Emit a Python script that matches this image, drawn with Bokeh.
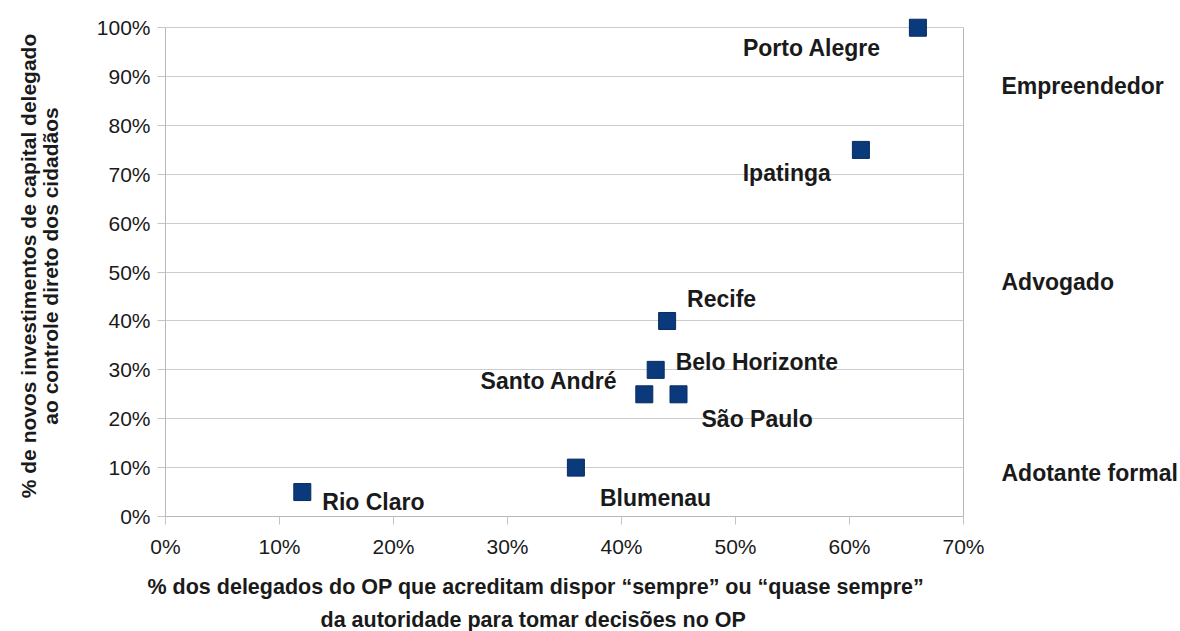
from bokeh.plotting import figure
from bokeh.models import (ColumnDataSource, Range1d, FixedTicker, PrintfTickFormatter,
                          LinearAxis, Label, Title)
from bokeh.embed import file_html
from bokeh.resources import INLINE

# ---- data ----
cities = ["Porto Alegre", "Ipatinga", "Recife", "Belo Horizonte",
          "Santo André", "São Paulo", "Blumenau", "Rio Claro"]
x_vals = [66, 61, 44, 43, 42, 45, 36, 12]   # % delegados
y_vals = [100, 75, 40, 30, 25, 25, 10, 5]   # % investimentos
x_ticks = [0, 10, 20, 30, 40, 50, 60, 70]
y_ticks = [0, 10, 20, 30, 40, 50, 60, 70, 80, 90, 100]
categories = ["Empreendedor", "Advogado", "Adotante formal"]
category_pos = [88, 48, 9]

x_title_lines = ["% dos delegados do OP que acreditam dispor \u201csempre\u201d ou \u201cquase sempre\u201d",
                 "da autoridade para tomar decisões no OP"]
y_title = "% de novos investimentos de capital delegado\nao controle direto dos cidadãos"

# label placement (style): (align, dx, dy) in screen px, dy positive = down
label_style = {
    "Porto Alegre": ("right", -37, 20),
    "Ipatinga": ("right", -30, 23),
    "Recife": ("left", 20, -22),
    "Belo Horizonte": ("left", 20, -8),
    "Santo André": ("right", -27, -13),
    "São Paulo": ("left", 23, 25),
    "Blumenau": ("left", 24, 30),
    "Rio Claro": ("left", 20, 10),
}
x_title_offsets = [-18, 155]   # px from frame left (style)
x_title_standoffs = [24, -9]

FONT = "Liberation Sans"
TXT = "#1a1a1a"
AXIS_GRAY = "#b8b8b8"

p = figure(width=1180, height=631, output_backend="svg", toolbar_location=None,
           x_range=Range1d(0, 70), y_range=Range1d(0, 102.5),
           min_border_left=165, min_border_right=217, min_border_top=15,
           min_border_bottom=115)
p.background_fill_color = "white"
p.border_fill_color = "white"
p.outline_line_color = None

# axes
for ax in (p.xaxis[0], p.yaxis[0]):
    ax.axis_line_color = AXIS_GRAY
    ax.major_tick_line_color = "#c4c4c4"
    ax.major_tick_in = 0
    ax.major_tick_out = 8
    ax.minor_tick_line_color = None
    ax.major_label_text_font = FONT
    ax.major_label_text_font_size = "21px"
    ax.major_label_text_color = TXT
    ax.formatter = PrintfTickFormatter(format="%d%%")

p.xaxis.ticker = FixedTicker(ticks=x_ticks)
p.yaxis.ticker = FixedTicker(ticks=y_ticks)
p.yaxis.bounds = (0, 100)
p.xaxis.major_label_standoff = 10
p.yaxis.major_label_standoff = 7

p.yaxis.axis_label = y_title
p.yaxis.axis_label_text_font = FONT
p.yaxis.axis_label_text_font_size = "21px"
p.yaxis.axis_label_text_font_style = "bold"
p.yaxis.axis_label_text_color = TXT
p.yaxis.axis_label_text_line_height = 0.95
p.yaxis.axis_label_standoff = 32

p.xgrid.grid_line_color = None
p.ygrid.grid_line_color = "#cccccc"
p.ygrid.grid_line_width = 1

# right-side category labels (axis line also serves as right border)
rax = LinearAxis(ticker=FixedTicker(ticks=category_pos), bounds=(0, 100),
                 major_label_overrides={v: c for v, c in zip(category_pos, categories)})
rax.axis_line_color = AXIS_GRAY
rax.major_tick_line_color = None
rax.minor_tick_line_color = None
rax.major_tick_out = 0
rax.major_tick_in = 0
rax.major_label_standoff = 38
rax.major_label_text_font = FONT
rax.major_label_text_font_size = "23px"
rax.major_label_text_font_style = "bold"
rax.major_label_text_color = TXT
p.add_layout(rax, "right")

# x-axis title, two lines, below the axis
for t, off, so in zip(x_title_lines, x_title_offsets, x_title_standoffs):
    p.add_layout(Title(text=t, align="left", offset=off, standoff=so,
                       text_font=FONT, text_font_size="21.5px",
                       text_font_style="bold", text_color=TXT), "below")

# points
src = ColumnDataSource(dict(x=x_vals, y=y_vals, name=cities))
p.scatter("x", "y", source=src, marker="square", size=17,
          fill_color="#0a3a7c", line_color="#082c60", line_width=1)

# point labels
for c, xv, yv in zip(cities, x_vals, y_vals):
    align, dx, dy = label_style[c]
    p.add_layout(Label(x=xv, y=yv, text=c, x_offset=dx, y_offset=-dy,
                       text_align=align, text_baseline="middle",
                       text_font=FONT, text_font_size="23px",
                       text_font_style="bold", text_color=TXT))

open("out.html", "w").write(file_html(p, INLINE))
